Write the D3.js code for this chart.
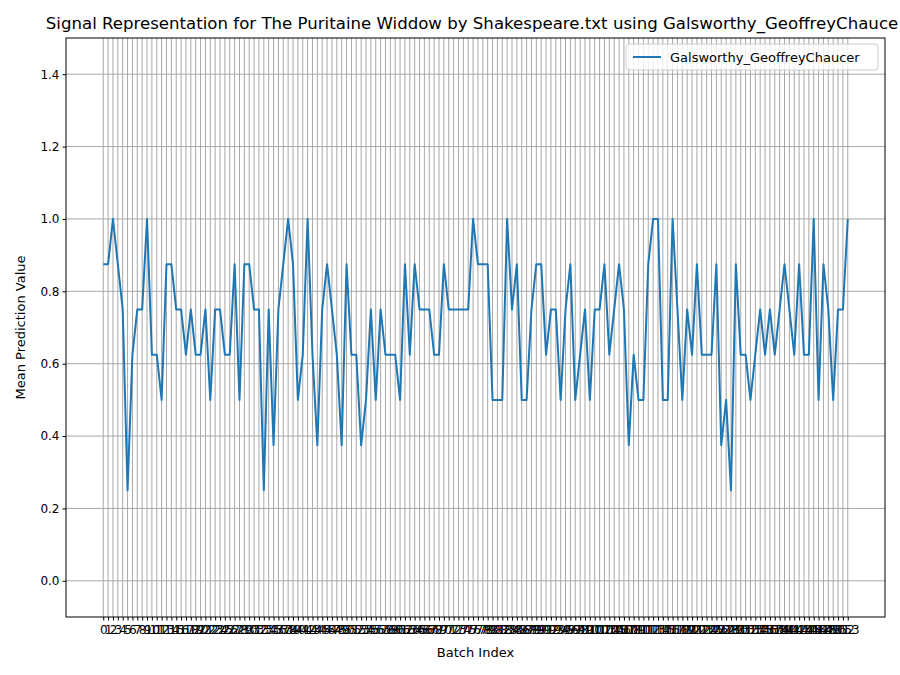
<!DOCTYPE html>
<html><head><meta charset="utf-8">
<script src="https://cdn.jsdelivr.net/npm/d3@7"></script>
<style>body{margin:0;background:#fff}text{font-family:"DejaVu Sans",sans-serif}</style>
</head><body><svg id="c" width="900" height="675"></svg>
<script>
const values = [
0.875,0.875,1,0.875,0.75,0.25,0.625,0.75,0.75,1,0.625,0.625,0.5,0.875,0.875,0.75,0.75,0.625,0.75,0.625,0.625,0.75,0.5,0.75,0.75,0.625,0.625,0.875,0.5,0.875,0.875,
0.75,0.75,0.25,0.75,0.375,0.75,0.875,1,0.875,0.5,0.625,1,0.625,0.375,0.75,0.875,0.75,0.625,0.375,0.875,0.625,0.625,0.375,0.5,0.75,0.5,0.75,0.625,0.625,0.625,0.5,
0.875,0.625,0.875,0.75,0.75,0.75,0.625,0.625,0.875,0.75,0.75,0.75,0.75,0.75,1,0.875,0.875,0.875,0.5,0.5,0.5,1,0.75,0.875,0.5,0.5,0.75,0.875,0.875,0.625,
0.75,0.75,0.5,0.75,0.875,0.5,0.625,0.75,0.5,0.75,0.75,0.875,0.625,0.75,0.875,0.75,0.375,0.625,0.5,0.5,0.875,1,1,0.5,0.5,1,0.75,0.5,0.75,0.625,0.875,
0.625,0.625,0.625,0.875,0.375,0.5,0.25,0.875,0.625,0.625,0.5,0.625,0.75,0.625,0.75,0.625,0.75,0.875,0.75,0.625,0.875,0.625,0.625,1,0.5,0.875,0.75,0.5,0.75,0.75,1
];
const indices = values.map((d,i)=>i);
const yTicks = [0,0.2,0.4,0.6,0.8,1.0,1.2,1.4];
const title = "Signal Representation for The Puritaine Widdow by Shakespeare.txt using Galsworthy_GeoffreyChauce";
const seriesName = "Galsworthy_GeoffreyChaucer";

const svg = d3.select("#c");
const L=66,R=885,T=38,B=617;
const x = d3.scaleLinear().domain([-7.65,160.65]).range([L,R]);
const y = d3.scaleLinear().domain([-0.1,1.5]).range([B,T]);
const g = svg.append("g");
g.selectAll(".vg").data(indices).enter().append("line")
 .attr("x1",d=>x(d)).attr("x2",d=>x(d)).attr("y1",T).attr("y2",B)
 .attr("stroke","#a8a8a8").attr("stroke-width",1);
g.selectAll(".hg").data(yTicks).enter().append("line")
 .attr("x1",L).attr("x2",R).attr("y1",d=>y(d)).attr("y2",d=>y(d))
 .attr("stroke","#a8a8a8").attr("stroke-width",1);
g.append("path").datum(values)
 .attr("d",d3.line().x((d,i)=>x(i)).y(d=>y(d)))
 .attr("fill","none").attr("stroke","#1f77b4").attr("stroke-width",2).attr("stroke-linejoin","round");
svg.append("rect").attr("x",L).attr("y",T).attr("width",R-L).attr("height",B-T)
 .attr("fill","none").attr("stroke","#000").attr("stroke-width",1);
const xa = svg.append("g").attr("transform",`translate(0,${B})`)
 .call(d3.axisBottom(x).tickValues(indices).tickFormat(d3.format("d")).tickSize(3.5));
xa.select(".domain").remove();
xa.selectAll("text").attr("font-size",12).attr("fill","#000").attr("dy","0.9em");
const ya = svg.append("g").attr("transform",`translate(${L},0)`)
 .call(d3.axisLeft(y).tickValues(yTicks).tickFormat(d3.format(".1f")).tickSize(3.5));
ya.select(".domain").remove();
ya.selectAll("text").attr("font-size",12).attr("fill","#000");
svg.append("text").attr("x",(L+R)/2).attr("y",657).attr("text-anchor","middle").attr("font-size",13).text("Batch Index");
svg.append("text").attr("transform",`translate(25,${(T+B)/2}) rotate(-90)`).attr("text-anchor","middle").attr("font-size",13).text("Mean Prediction Value");
svg.append("text").attr("x",472).attr("y",29).attr("text-anchor","middle").attr("font-size",16.6).text(title);
const lg = svg.append("g");
lg.append("rect").attr("x",626).attr("y",44).attr("width",252).attr("height",26).attr("rx",3)
 .attr("fill","#fff").attr("fill-opacity",0.8).attr("stroke","#ccc");
lg.append("line").attr("x1",633).attr("x2",661).attr("y1",57).attr("y2",57).attr("stroke","#1f77b4").attr("stroke-width",2);
lg.append("text").attr("x",670).attr("y",61.5).attr("font-size",13).text(seriesName);
</script></body></html>
